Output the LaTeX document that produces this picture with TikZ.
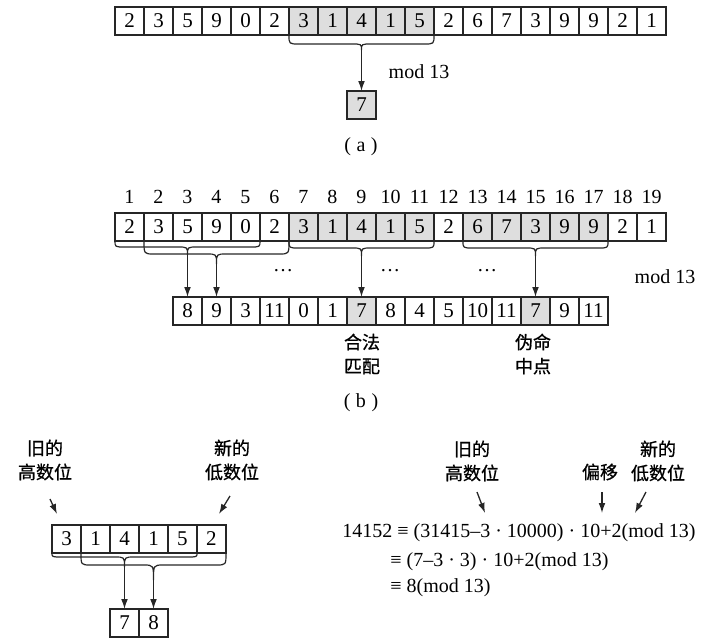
\documentclass[tikz,border=0pt]{standalone}
\usepackage{fontspec}
\setmainfont{Liberation Serif}
\newfontfamily\cjk[FakeBold=0.8]{Noto Sans CJK SC}
\usetikzlibrary{arrows.meta}
\definecolor{shd}{gray}{0.87}
\newcommand\mybrace[6]{%
  \pgfmathsetmacro\bxc{(#1+#2)/2}%
  \draw[brc] (#1,#3) .. controls (#1,#3+#4) .. (#1+10,#3+#4) -- (\bxc-10,#3+#4)
     .. controls (\bxc,#3+#4) .. (\bxc,#3+#4+#5)
     .. controls (\bxc,#3+#4) .. (\bxc+10,#3+#4) -- (#2-10,#3+#4)
     .. controls (#2,#3+#4) .. (#2,#3);
  \coordinate (#6) at (\bxc,#3+#4+#5);
}
\begin{document}
\begin{tikzpicture}[x=0.5pt,y=-0.5pt,
  cell/.style={draw=black!85, line width=0.6pt, minimum width=14.5pt, minimum height=14pt,
    inner sep=0pt, outer sep=0pt, font=\fontsize{10.5}{12}\selectfont},
  arr/.style={draw=black!85, line width=0.65pt, -{Latex[length=5pt,width=3.4pt]}},
  brc/.style={draw=black!85, line width=0.6pt},
  lbl/.style={font=\fontsize{10}{12}\selectfont, inner sep=0pt},
  cj/.style={font=\cjk\fontsize{9}{12}\selectfont, align=center, inner sep=0pt},
]
\useasboundingbox (0,0) rectangle (709,643);

% ---------- (a) ----------
\foreach \v/\f [count=\i] in {2/white,3/white,5/white,9/white,0/white,2/white,3/shd,1/shd,4/shd,1/shd,5/shd,2/white,6/white,7/white,3/white,9/white,9/white,2/white,1/white}
  \node[cell,fill=\f] (a\i) at ({129.5+29*(\i-1)},21) {\v};
\mybrace{289}{434}{35}{9}{6}{ta}
\node[cell,fill=shd] (ra) at (361.5,105) {7};
\draw[arr] (ta) -- (ra.north);
\node[lbl] (ma) at (419,72) {mod 13};
\node[lbl] (capa) at (361,147) {(\;a\;)};

% ---------- (b) ----------
\foreach \i in {1,...,19}
  \node[lbl] (n\i) at ({129.5+29*(\i-1)},197) {\i};
\foreach \v/\f [count=\i] in {2/white,3/white,5/white,9/white,0/white,2/white,3/shd,1/shd,4/shd,1/shd,5/shd,2/white,6/shd,7/shd,3/shd,9/shd,9/shd,2/white,1/white}
  \node[cell,fill=\f] (t\i) at ({129.5+29*(\i-1)},227) {\v};
\foreach \v/\f [count=\i] in {8/white,9/white,3/white,11/white,0/white,1/white,7/shd,8/white,4/white,5/white,10/white,11/white,7/shd,9/white,11/white}
  \node[cell,fill=\f] (b\i) at ({187.5+29*(\i-1)},311) {\v};
\mybrace{115}{260}{241}{6}{8}{tA}
\mybrace{144}{289}{241}{13}{10}{tB}
\mybrace{289}{434}{241}{7}{8}{tC}
\mybrace{463}{608}{241}{7}{8}{tD}
\draw[arr] (tA) -- (b1.north);
\draw[arr] (tB) -- (b2.north);
\draw[arr] (tC) -- (b7.north);
\draw[arr] (tD) -- (b13.north);
\node[lbl] (d1) at (283,271) {…};
\node[lbl] (d2) at (390,271) {…};
\node[lbl] (d3) at (487,271) {…};
\node[lbl] (mb) at (665,277) {mod 13};
\node[cj] (legal) at (362,354) {合法\\匹配};
\node[cj] (spur) at (533,354) {伪命\\中点};
\node[lbl] (capb) at (361,403) {(\;b\;)};

% ---------- bottom left ----------
\node[cj] (oldL) at (45,460) {旧的\\高数位};
\node[cj] (newL) at (232,460) {新的\\低数位};
\foreach \v [count=\i] in {3,1,4,1,5,2}
  \node[cell] (c\i) at ({66.5+29*(\i-1)},539) {\v};
\node[cell] (r1) at (124.5,623) {7};
\node[cell] (r2) at (153.5,623) {8};
\mybrace{52}{197}{553}{4}{10}{tE}
\mybrace{81}{226}{553}{12}{15}{tF}
\draw[arr] (tE) -- (r1.north);
\draw[arr] (tF) -- (r2.north);
\coordinate (oLs) at (50,499); \coordinate (oLe) at (57,514);
\coordinate (nLs) at (230,496); \coordinate (nLe) at (219,514);
\draw[arr] (oLs) -- (oLe);
\draw[arr] (nLs) -- (nLe);

% ---------- bottom right ----------
\node[cj] (oldR) at (472,461) {旧的\\高数位};
\node[cj] (shift) at (600,472) {偏移};
\node[cj] (newR) at (658,461) {新的\\低数位};
\coordinate (oRs) at (477,492); \coordinate (oRe) at (485,513);
\coordinate (sRs) at (602,492); \coordinate (sRe) at (602,513);
\coordinate (nRs) at (646,492); \coordinate (nRe) at (635,513);
\draw[arr] (oRs) -- (oRe);
\draw[arr] (sRs) -- (sRe);
\draw[arr] (nRs) -- (nRe);
\node[lbl,anchor=west] (eq1) at (342,533) {14152 ≡ (31415–3 · 10000) · 10+2(mod 13)};
\node[lbl,anchor=west] (eq2) at (390,562) {≡ (7–3 · 3) · 10+2(mod 13)};
\node[lbl,anchor=west] (eq3) at (390,588) {≡ 8(mod 13)};
\end{tikzpicture}
\end{document}
